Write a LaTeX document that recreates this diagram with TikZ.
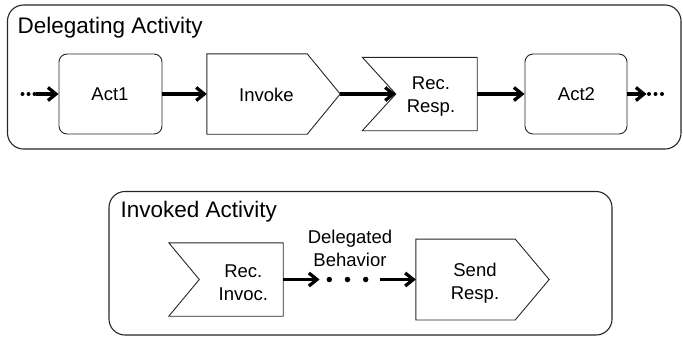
\documentclass[tikz,border=0pt]{standalone}
\usepackage{fontspec}
\setmainfont{Liberation Sans}
\usetikzlibrary{arrows.meta,calc}

\begin{document}
\begin{tikzpicture}[x=1pt,y=-1pt,
  frame/.style={draw=black!85, line width=1.1pt, rounded corners=16pt},
  title/.style={anchor=base west, inner sep=0pt, font=\fontsize{22.5}{27}\selectfont},
  actbox/.style={draw=black!85, line width=0.9pt, rounded corners=8pt, inner sep=0pt,
    minimum width=#1, minimum height=80pt},
  slot/.style={inner sep=0pt, minimum width=#1},
  outline/.style={draw=black!85, line width=0.9pt, line join=miter},
  lbl/.style={inner sep=0pt, align=center, font=\fontsize{18.5}{23}\selectfont},
  flow/.style={line width=3.3pt, -{Straight Barb[length=8pt,width=13pt]}},
  smalldot/.style={circle, fill=black, inner sep=0pt, minimum size=4pt},
  bigdot/.style={circle, fill=black, inner sep=0pt, minimum size=5.5pt}]

\useasboundingbox (0,0) rectangle (683,338);

% ---- delegating activity ----
\draw[frame] (7.5,5) rectangle (681,149);
\node[title] (t1) at (17.5,33) {Delegating Activity};

\node[actbox=103pt] (act1) at (110.5,94) {};
\node[lbl] (act1-t) at (110,94.5) {Act1};

% send signal shape
\node[slot=133pt, minimum height=80pt] (inv) at (273.5,94) {};
\draw[outline] (inv.north west) -- ([xshift=-33pt]inv.north east) -- (inv.east)
  -- ([xshift=-33pt]inv.south east) -- (inv.south west) -- cycle;
\node[lbl] (inv-t) at (266.5,95) {Invoke};

% accept signal shape
\node[slot=114.5pt, minimum height=73pt] (rr) at (419.75,94) {};
\coordinate (rr-in) at ([xshift=33.5pt]rr.west);
\draw[outline] (rr.north west) -- (rr.north east) -- (rr.south east)
  -- (rr.south west) -- (rr-in) -- cycle;
\node[lbl] (rr-t) at (431,96.5) {Rec.\\Resp.};

\node[actbox=102pt] (act2) at (576,94) {};
\node[lbl] (act2-t) at (576.5,94.5) {Act2};

% incoming and outgoing continuation
\node[smalldot] (l1) at (22.5,94) {};
\node[smalldot] (l2) at (28.5,94) {};
\node[smalldot] (l3) at (34.5,94) {};
\coordinate (lin) at (36,94);
\node[smalldot] (r1) at (649,94) {};
\node[smalldot] (r2) at (655.5,94) {};
\node[smalldot] (r3) at (662,94) {};
\coordinate (rout) at (646.5,94);

\draw[flow] (lin) -- (act1.west);
\draw[flow] (act1.east) -- (inv.west);
\draw[flow] (inv.east) -- (rr-in);
\draw[flow] (rr.east) -- (act2.west);
\draw[flow] (act2.east) -- (rout);

% ---- invoked activity ----
\draw[frame] (109,191.5) rectangle (612,335);
\node[title] (t2) at (120.5,217) {Invoked Activity};

\node[slot=114pt, minimum height=73pt] (ri) at (226,279.5) {};
\coordinate (ri-in) at ([xshift=30.5pt]ri.west);
\draw[outline] (ri.north west) -- (ri.north east) -- (ri.south east)
  -- (ri.south west) -- (ri-in) -- cycle;
\node[lbl] (ri-t) at (243.3,283) {Rec.\\Invoc.};

\node[slot=133pt, minimum height=80.5pt] (sr) at (482.5,279.5) {};
\draw[outline] (sr.north west) -- ([xshift=-34pt]sr.north east) -- (sr.east)
  -- ([xshift=-34pt]sr.south east) -- (sr.south west) -- cycle;
\node[lbl] (sr-t) at (475,283) {Send\\Resp.};

\node[lbl] (deleg) at (350,248.6) {Delegated\\Behavior};

\node[bigdot] (b1) at (329.3,279.5) {};
\node[bigdot] (b2) at (347.5,279.5) {};
\node[bigdot] (b3) at (365.7,279.5) {};
\coordinate (bin) at (319.5,279.5);
\coordinate (bout) at (380,279.5);

\draw[flow] (ri.east) -- (bin);
\draw[flow] (bout) -- (sr.west);
\end{tikzpicture}
\end{document}
